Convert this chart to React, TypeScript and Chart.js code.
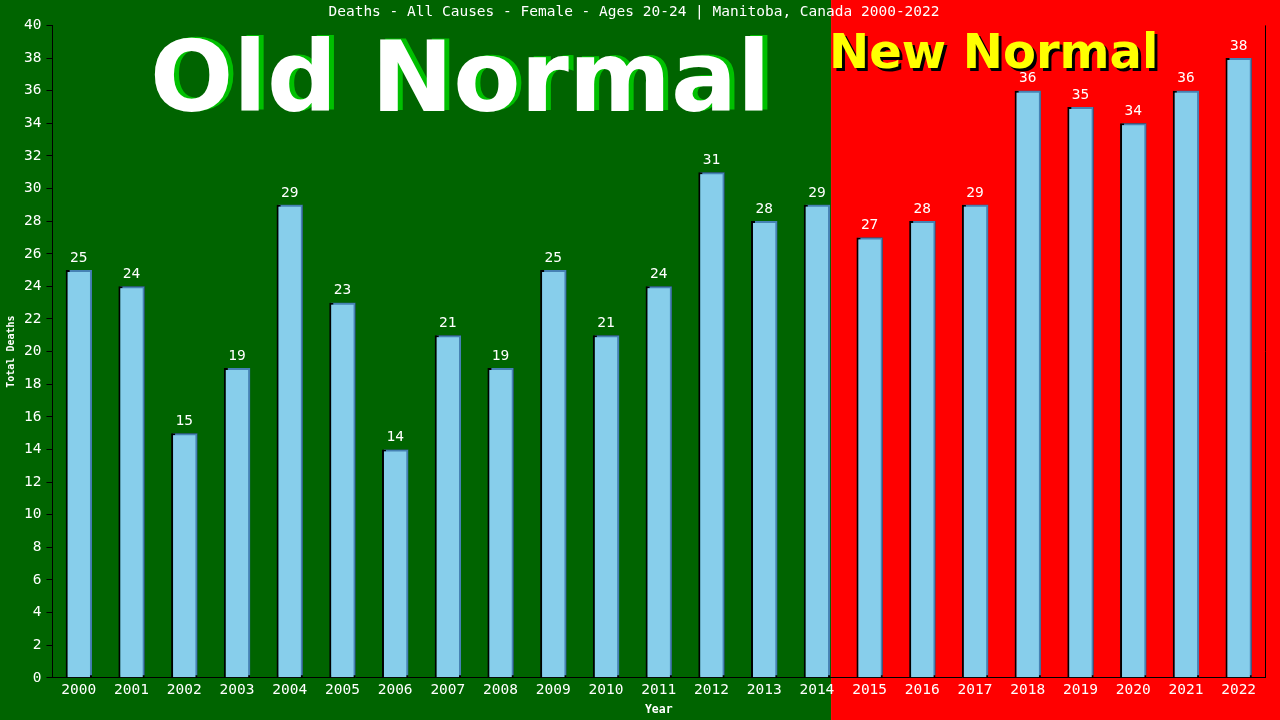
import React, { useEffect, useRef } from "react";
import Chart from "chart.js/auto";

const years = [
  "2000", "2001", "2002", "2003", "2004", "2005", "2006", "2007", "2008", "2009", "2010", "2011",
  "2012", "2013", "2014", "2015", "2016", "2017", "2018", "2019", "2020", "2021", "2022"
];
const deaths = [25, 24, 15, 19, 29, 23, 14, 21, 19, 25, 21, 24, 31, 28, 29, 27, 28, 29, 36, 35, 34, 36, 38];
const lastOldIndex = 14; // 2014 is the last "old normal" year
const chartTitle = "Deaths - All Causes - Female - Ages 20-24 | Manitoba, Canada 2000-2022";

const MONO = "'DejaVu Sans Mono', monospace";
const SANS = "'DejaVu Sans', sans-serif";

const App: React.FC = () => {
  const chartRef = useRef<HTMLCanvasElement>(null);

  useEffect(() => {
    let myChart: Chart | null = null;

    const backdrop = {
      id: "backdrop",
      beforeDraw(chart: any) {
        const ctx = chart.ctx;
        const bar = chart.getDatasetMeta(0).data[lastOldIndex];
        const split = bar.x + bar.width / 2 + 1;
        ctx.save();
        ctx.fillStyle = "#006400";
        ctx.fillRect(0, 0, split, chart.height);
        ctx.fillStyle = "#ff0000";
        ctx.fillRect(split, 0, chart.width - split, chart.height);
        ctx.restore();
      },
      beforeDatasetsDraw(chart: any) {
        const ctx = chart.ctx;
        const area = chart.chartArea;
        ctx.save();
        ctx.textBaseline = "alphabetic";
        ctx.textAlign = "left";
        ctx.font = "bold 98px " + SANS;
        ctx.fillStyle = "#00c000";
        ctx.fillText("Old Normal", 155, 110);
        ctx.fillStyle = "#ffffff";
        ctx.fillText("Old Normal", 150, 111);
        ctx.font = "bold 48px " + SANS;
        ctx.fillStyle = "#000000";
        ctx.fillText("New Normal", 832, 71);
        ctx.fillStyle = "#ffff00";
        ctx.fillText("New Normal", 829, 68);
        // right frame line
        ctx.strokeStyle = "#000000";
        ctx.lineWidth = 1;
        ctx.beginPath();
        ctx.moveTo(area.right + 0.5, area.top);
        ctx.lineTo(area.right + 0.5, area.bottom);
        ctx.stroke();
        // bar shadow
        ctx.shadowColor = "#4682b4";
        ctx.shadowOffsetX = 2;
        ctx.shadowOffsetY = -2;
        ctx.shadowBlur = 0;
      },
      afterDatasetsDraw(chart: any) {
        const ctx = chart.ctx;
        ctx.restore();
        ctx.save();
        ctx.font = "14.5px " + MONO;
        ctx.fillStyle = "#ffffff";
        ctx.textAlign = "center";
        ctx.textBaseline = "middle";
        chart.getDatasetMeta(0).data.forEach((el: any, i: number) => {
          ctx.fillText(String(deaths[i]), el.x, el.y - 12);
        });
        ctx.restore();
      }
    };

    if (chartRef && chartRef.current) {
      const ctx = chartRef.current.getContext("2d");
      if (ctx) {
        myChart = new Chart(ctx, {
          type: "bar",
          data: {
            labels: years,
            datasets: [
              {
                label: "Total Deaths",
                data: deaths,
                backgroundColor: "#87ceeb",
                borderColor: "#000000",
                borderWidth: 2,
                borderSkipped: "bottom",
                barPercentage: 0.52,
                categoryPercentage: 0.96
              }
            ]
          },
          options: {
            animation: false,
            responsive: false,
            layout: { padding: { left: 3, right: 15, top: 0, bottom: 0 } },
            plugins: {
              legend: { display: false },
              tooltip: { enabled: false },
              title: {
                display: true,
                text: chartTitle,
                color: "#ffffff",
                font: { family: MONO, size: 14.5, weight: "normal" },
                padding: { top: 4, bottom: 4 }
              }
            },
            scales: {
              x: {
                grid: { display: false, drawTicks: false },
                border: { display: true, color: "#000000", width: 1 },
                ticks: { color: "#ffffff", font: { family: MONO, size: 14.5 }, padding: 4, maxRotation: 0 },
                title: {
                  display: true,
                  text: "Year",
                  color: "#ffffff",
                  font: { family: MONO, size: 11.5, weight: "bold" },
                  padding: { top: 0, bottom: 3 }
                }
              },
              y: {
                min: 0,
                max: 40,
                grid: { drawOnChartArea: false, drawTicks: true, tickLength: 6, color: "#000000" },
                border: { display: true, color: "#000000", width: 1 },
                ticks: { stepSize: 2, color: "#ffffff", font: { family: MONO, size: 14.5 }, padding: 5 },
                title: {
                  display: true,
                  text: "Total Deaths",
                  color: "#ffffff",
                  font: { family: MONO, size: 10, weight: "bold" },
                  padding: { top: 2, bottom: 2 }
                }
              }
            }
          },
          plugins: [backdrop]
        });
      }
    }

    return () => {
      if (myChart) {
        myChart.destroy();
      }
    };
  }, []);

  return (
    <div style={{ position: "fixed", left: 0, top: 0, width: 1280, height: 720 }}>
      <canvas ref={chartRef} width={1280} height={720} style={{ width: 1280, height: 720 }} />
    </div>
  );
};

export default App;
